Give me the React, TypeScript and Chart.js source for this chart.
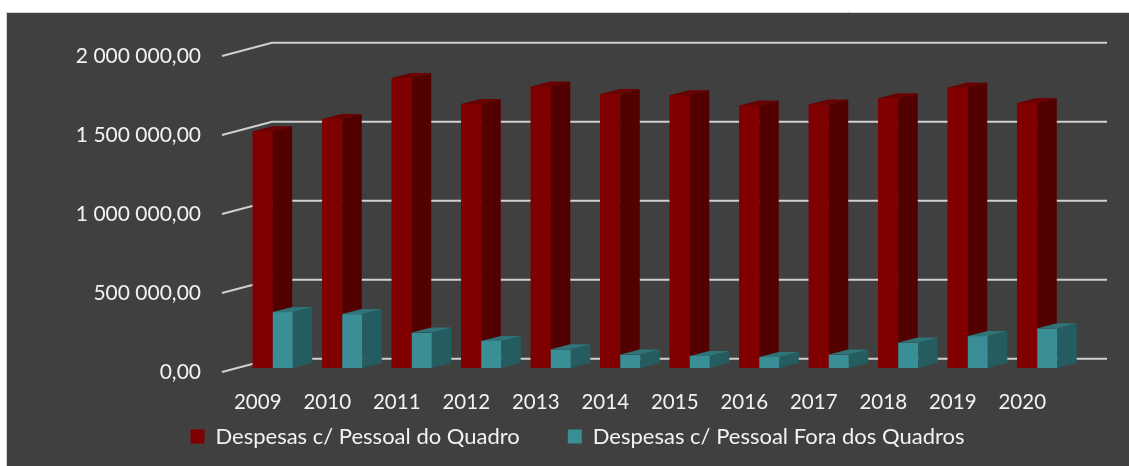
import React, { useEffect, useRef } from 'react';
import { Chart, registerables } from 'chart.js';

Chart.register(...registerables);

const YEARS = ['2009', '2010', '2011', '2012', '2013', '2014', '2015', '2016', '2017', '2018', '2019', '2020'];
const QUADRO = [1498000, 1576000, 1836000, 1671000, 1781000, 1734000, 1726000, 1662000, 1667000, 1707000, 1776000, 1678000];
const FORA = [354000, 341000, 224000, 171000, 118000, 85000, 76000, 70000, 85000, 161000, 202000, 251000];
const Y_TICK_LABELS = ['0,00', '500 000,00', '1 000 000,00', '1 500 000,00', '2 000 000,00'];
const SERIES_NAMES = ['Despesas c/ Pessoal do Quadro', 'Despesas c/ Pessoal Fora dos Quadros'];

const W = 1129;
const H = 466;
const TEXT = '#f2f2f2';
const FACES = [
  { front: '#800000', side: '#520000', top: '#6a0000' },
  { front: '#3a8f96', side: '#255c60', top: '#2e7479' },
];
const DX = 19.5;
const DY = 5;

const backgroundPlugin = {
  id: 'bg3d',
  beforeDraw(chart: any) {
    // let tick labels overflow their axis boxes (no clipping)
    for (const id of ['x', 'y']) {
      const s = chart.scales[id];
      if (s) s._computeLabelArea = () => undefined;
    }
    const ctx = chart.ctx;
    ctx.save();
    ctx.fillStyle = '#ffffff';
    ctx.fillRect(0, 0, W, H);
    ctx.fillStyle = '#404040';
    ctx.fillRect(6, 12, W - 6, H - 12);
    ctx.strokeStyle = '#d4d4d4';
    ctx.lineWidth = 1;
    ctx.beginPath();
    ctx.moveTo(6.5, H);
    ctx.lineTo(6.5, 12.5);
    ctx.lineTo(W, 12.5);
    ctx.stroke();
    ctx.restore();
  },
  beforeDatasetsDraw(chart: any) {
    const ctx = chart.ctx;
    const ys = chart.scales.y;
    const area = chart.chartArea;
    ctx.save();
    ctx.strokeStyle = '#d0d0d0';
    ctx.lineWidth = 2;
    ctx.lineCap = 'butt';
    for (const t of ys.ticks) {
      const yb = ys.getPixelForValue(t.value);
      ctx.beginPath();
      ctx.moveTo(area.left - 16, yb + 4);
      ctx.lineTo(area.left + 34, yb - 9.3);
      ctx.lineTo(area.right + 35, yb - 9.3);
      ctx.stroke();
    }
    ctx.restore();
  },
  afterDatasetsDraw(chart: any) {
    const ctx = chart.ctx;
    const metas = [chart.getDatasetMeta(0), chart.getDatasetMeta(1)];
    ctx.save();
    for (let i = 0; i < YEARS.length; i++) {
      for (let d = 0; d < 2; d++) {
        const el = metas[d].data[i];
        const { x, y, base, width } = el.getProps(['x', 'y', 'base', 'width'], true);
        const x0 = x - width / 2;
        const x1 = x + width / 2;
        const f = FACES[d];
        ctx.fillStyle = f.front;
        ctx.fillRect(x0, y, width, base - y);
        ctx.fillStyle = f.side;
        ctx.beginPath();
        ctx.moveTo(x1, y);
        ctx.lineTo(x1 + DX, y - DY);
        ctx.lineTo(x1 + DX, base - DY);
        ctx.lineTo(x1, base);
        ctx.closePath();
        ctx.fill();
        ctx.fillStyle = f.top;
        ctx.beginPath();
        ctx.moveTo(x0, y);
        ctx.lineTo(x0 + DX, y - DY);
        ctx.lineTo(x1 + DX, y - DY);
        ctx.lineTo(x1, y);
        ctx.closePath();
        ctx.fill();
      }
    }
    ctx.restore();
  },
};

export default function App() {
  const ref = useRef<HTMLCanvasElement | null>(null);

  useEffect(() => {
    if (!ref.current) return;
    Chart.defaults.font.family = 'Lato';
    const chart = new Chart(ref.current, {
      type: 'bar',
      data: {
        labels: YEARS,
        datasets: [
          { label: SERIES_NAMES[0], data: QUADRO, backgroundColor: FACES[0].front, borderWidth: 0 },
          { label: SERIES_NAMES[1], data: FORA, backgroundColor: FACES[1].front, borderWidth: 0 },
        ],
      },
      options: {
        responsive: false,
        animation: false,
        devicePixelRatio: 1,
        layout: { padding: { top: 52, left: 83, right: 57, bottom: 8.5 } },
        datasets: { bar: { barPercentage: 1, categoryPercentage: 0.576 } },
        plugins: {
          tooltip: { enabled: false },
          legend: {
            position: 'bottom',
            labels: {
              color: TEXT,
              font: { size: 22, family: 'Lato' },
              boxWidth: 14,
              boxHeight: 14,
              padding: 48,
            },
          },
        },
        scales: {
          x: {
            grid: { display: false, drawTicks: false },
            border: { display: false },
            ticks: {
              color: TEXT,
              font: { size: 20.5, family: 'Lato' },
              padding: 22,
              labelOffset: -15,
              autoSkip: false,
              maxRotation: 0,
            },
            afterFit: (s: any) => { s.height = 9.5; },
          },
          y: {
            min: 0,
            max: 2000000,
            grid: { display: false, drawTicks: false },
            border: { display: false },
            ticks: {
              stepSize: 500000,
              color: TEXT,
              font: { size: 21, family: 'Lato' },
              padding: 37,
              labelOffset: 4.5,
              callback: (_v: any, i: number) => Y_TICK_LABELS[i],
            },
            afterFit: (s: any) => { s.width = 155; },
          },
        },
      },
      plugins: [backgroundPlugin],
    } as any);
    return () => chart.destroy();
  }, []);

  return (
    <div style={{ position: 'absolute', left: 0, top: 0, width: W, height: H }}>
      <canvas ref={ref} width={W} height={H} style={{ width: W, height: H, display: 'block' }} />
    </div>
  );
}
